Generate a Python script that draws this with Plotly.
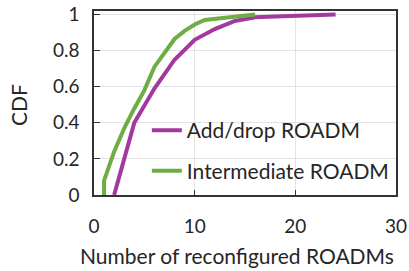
import plotly.graph_objects as go

# Data
adddrop_x = [2, 4, 6, 8, 10, 12, 14, 16, 18, 20, 22, 24]
adddrop_y = [0, 0.40, 0.59, 0.75, 0.86, 0.92, 0.965, 0.985, 0.99, 0.995, 0.998, 1.0]

inter_x = [1, 1, 2, 3, 4, 5, 6, 7, 8, 9, 10, 11, 12, 13, 14, 15, 16]
inter_y = [0, 0.08, 0.24, 0.37, 0.48, 0.58, 0.71, 0.79, 0.865, 0.91, 0.945, 0.97, 0.975, 0.98, 0.99, 0.995, 1.0]

x_ticks = [0, 10, 20, 30]
y_ticks = [0, 0.2, 0.4, 0.6, 0.8, 1]
y_tick_labels = ["0", "0.2", "0.4", "0.6", "0.8", "1"]

x_title = "Number of reconfigured ROADMs"
y_title = "CDF"

MAGENTA = "#A3399F"
GREEN = "#6EAD45"
FONT = "Lato"
FS = 21
TICK_FS = 19
TXT = "#262626"

fig = go.Figure()
fig.add_trace(go.Scatter(x=adddrop_x, y=adddrop_y, mode="lines", name="Add/drop ROADM",
                         line=dict(color=MAGENTA, width=4), legend="legend"))
fig.add_trace(go.Scatter(x=inter_x, y=inter_y, mode="lines", name="Intermediate ROADM",
                         line=dict(color=GREEN, width=4), legend="legend2"))

leg_common = dict(font=dict(family=FONT, size=FS, color=TXT), bgcolor="rgba(0,0,0,0)",
                  xanchor="left", yanchor="middle", itemwidth=30, borderwidth=0)

fig.update_layout(
    width=409, height=271,
    margin=dict(l=94, r=13, t=11, b=76),
    paper_bgcolor="white", plot_bgcolor="white",
    font=dict(family=FONT, size=FS, color=TXT),
    showlegend=True,
    legend=dict(x=0.175, y=0.35, **leg_common),
    legend2=dict(x=0.175, y=0.13, **leg_common),
    xaxis=dict(range=[0, 30], tickvals=x_ticks, showgrid=True, gridcolor="#E3E3E3", gridwidth=1,
               showline=True, linecolor="#333333", linewidth=1.5, mirror=True,
               ticks="inside", ticklen=5, tickcolor="#333333", automargin=False,
               ticklabelstandoff=13,
               zeroline=False, tickfont=dict(size=TICK_FS)),
    yaxis=dict(range=[0, 1.02], tickvals=y_ticks, ticktext=y_tick_labels, showgrid=True,
               gridcolor="#E3E3E3", gridwidth=1,
               showline=True, linecolor="#333333", linewidth=1.5, mirror=True,
               ticks="inside", ticklen=6, tickcolor="#333333", automargin=False,
               ticklabelstandoff=9,
               zeroline=False, tickfont=dict(size=TICK_FS)),
    annotations=[
        dict(text=x_title, xref="paper", yref="paper", x=(236.5 - 94) / 302, y=(195 - 255) / 184,
             xanchor="center", yanchor="middle", showarrow=False, font=dict(size=FS, color=TXT)),
        dict(text=y_title, xref="paper", yref="paper", x=(18 - 94) / 302, y=(195 - 105) / 184,
             xanchor="center", yanchor="middle", showarrow=False, textangle=-90,
             font=dict(size=FS, color=TXT)),
    ],
)

fig.write_html("out.html", config={"displayModeBar": False},
               post_script="document.body.style.margin='0';document.body.style.overflow='hidden';")
